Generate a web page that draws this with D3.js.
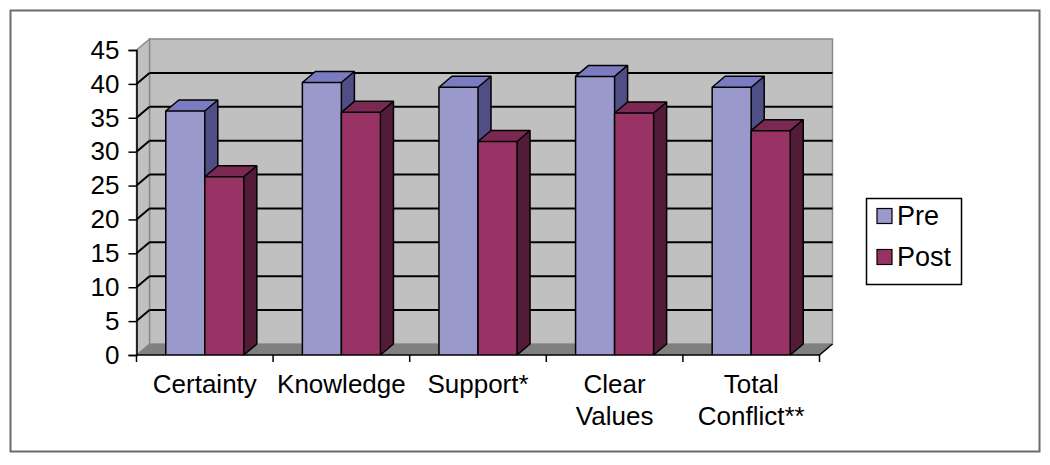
<!DOCTYPE html>
<html lang="en">
<head>
<meta charset="utf-8">
<title>Pre / Post 3D columns</title>
<script src="https://cdn.jsdelivr.net/npm/d3@7"></script>
<style>
  * { margin: 0; padding: 0; }
  body { background: #fff; }
  svg { display: block; font-family: "Liberation Sans", Arial, Helvetica, sans-serif; }
</style>
</head>
<body>
<div id="chart"></div>
<script>
// data
var categories = ["Certainty", "Knowledge", "Support*", "Clear\nValues", "Total\nConflict**"];
var series = ["Pre", "Post"];
var preValues = [36.0, 40.2, 39.5, 41.1, 39.5];
var postValues = [26.3, 35.8, 31.5, 35.7, 33.1];
var yTicks = [0, 5, 10, 15, 20, 25, 30, 35, 40, 45];

var w = 1050, h = 465;

// face colours: front, top, side
var colours = {
  Pre:  { front: "#9999cc", top: "#7b7bc1", side: "#4f4f85" },
  Post: { front: "#993366", top: "#7a2952", side: "#521c38" }
};

// depth of the 3d box
var dx = 13, dy = -11;

var svg = d3.select("#chart").append("svg")
    .attr("width", w)
    .attr("height", h);

// outer frame
svg.append("rect")
    .attr("x", 10.5).attr("y", 10.5)
    .attr("width", 1029).attr("height", 441)
    .attr("fill", "none")
    .attr("stroke", "#6b6b6b")
    .attr("stroke-width", 2);

var y = d3.scaleLinear().domain([0, 45]).range([355, 50]);
var x0 = d3.scaleBand().domain(categories).range([136.5, 819.5]);
var x1 = d3.scaleBand().domain(series).range([0, x0.bandwidth()])
    .paddingInner(0).paddingOuter(0.75);

var left = x0.range()[0], right = x0.range()[1];
var y0 = y(0), yTop = y(45);

function pts(a) { return a.map(function(p) { return p.join(","); }).join(" "); }

// walls and floor
var walls = svg.append("g");
walls.append("polygon")
    .attr("points", pts([[left + dx, yTop + dy], [right + dx, yTop + dy], [right + dx, y0 + dy], [left + dx, y0 + dy]]))
    .attr("fill", "#c0c0c0").attr("stroke", "#8a8a8a").attr("stroke-width", 1.5);
walls.append("polygon")
    .attr("points", pts([[left, yTop], [left + dx, yTop + dy], [left + dx, y0 + dy], [left, y0]]))
    .attr("fill", "#c0c0c0").attr("stroke", "#8a8a8a").attr("stroke-width", 1.5);
walls.append("polygon")
    .attr("points", pts([[left, y0], [left + dx, y0 + dy], [right + dx, y0 + dy], [right, y0]]))
    .attr("fill", "#808080");
walls.append("line")
    .attr("x1", right).attr("y1", y0).attr("x2", right + dx).attr("y2", y0 + dy)
    .attr("stroke", "#000").attr("stroke-width", 1.5);

// gridlines on back wall + side wall
var grid = svg.append("g");
var gridTicks = yTicks.filter(function(t) { return t > 0 && t < 45; });
grid.selectAll("line.back")
    .data(gridTicks)
    .enter().append("line")
    .attr("class", "back")
    .attr("x1", left + dx).attr("x2", right + dx)
    .attr("y1", function(d) { return y(d) + dy; })
    .attr("y2", function(d) { return y(d) + dy; })
    .attr("stroke", "#000").attr("stroke-width", 2);
grid.selectAll("line.side")
    .data(gridTicks)
    .enter().append("line")
    .attr("class", "side")
    .attr("x1", left).attr("x2", left + dx)
    .attr("y1", function(d) { return y(d); })
    .attr("y2", function(d) { return y(d) + dy; })
    .attr("stroke", "#000").attr("stroke-width", 2);

// bars
var rows = [];
categories.forEach(function(c, i) {
  rows.push({ cat: c, s: "Pre", v: preValues[i] });
  rows.push({ cat: c, s: "Post", v: postValues[i] });
});

var bars = svg.append("g").selectAll("g")
    .data(rows)
    .enter().append("g");

function bx(d) { return x0(d.cat) + x1(d.s); }
var bw = x1.bandwidth();

bars.append("polygon")
    .attr("points", function(d) {
      var a = bx(d), b = a + bw, t = y(d.v);
      return pts([[a, t], [a + dx, t + dy], [b + dx, t + dy], [b, t]]);
    })
    .attr("fill", function(d) { return colours[d.s].top; });
bars.append("polygon")
    .attr("points", function(d) {
      var b = bx(d) + bw, t = y(d.v);
      return pts([[b, t], [b + dx, t + dy], [b + dx, y0 + dy], [b, y0]]);
    })
    .attr("fill", function(d) { return colours[d.s].side; });
bars.append("rect")
    .attr("x", bx)
    .attr("y", function(d) { return y(d.v); })
    .attr("width", bw)
    .attr("height", function(d) { return y0 - y(d.v); })
    .attr("fill", function(d) { return colours[d.s].front; });
// outlines
bars.append("path")
    .attr("d", function(d) {
      var a = bx(d), b = a + bw, t = y(d.v);
      return "M" + a + "," + y0 + "V" + t + "L" + (a + dx) + "," + (t + dy) +
        "H" + (b + dx) + "V" + (y0 + dy) + "L" + b + "," + y0 +
        "M" + a + "," + t + "H" + b + "V" + y0 +
        "M" + b + "," + t + "L" + (b + dx) + "," + (t + dy);
    })
    .attr("fill", "none")
    .attr("stroke", "#000")
    .attr("stroke-width", 1.5)
    .attr("stroke-linejoin", "round");

// y axis
var yAxis = d3.axisLeft(y).tickValues(yTicks).tickSize(8).tickPadding(9);
var yg = svg.append("g")
    .attr("transform", "translate(" + left + ",0)")
    .call(yAxis);
yg.select(".domain").attr("stroke", "#000").attr("stroke-width", 1.5);
yg.selectAll(".tick line").attr("stroke", "#000").attr("stroke-width", 1.5);
yg.selectAll(".tick text")
    .attr("font-size", 26)
    .attr("font-family", "Liberation Sans, Arial, sans-serif")
    .attr("fill", "#000");

// x axis line and ticks at category boundaries
var xg = svg.append("g");
xg.append("line")
    .attr("x1", left).attr("x2", right)
    .attr("y1", y0).attr("y2", y0)
    .attr("stroke", "#000").attr("stroke-width", 1.5);
var bounds = categories.map(function(c) { return x0(c); }).concat([right]);
xg.selectAll("line.tick")
    .data(bounds)
    .enter().append("line")
    .attr("class", "tick")
    .attr("x1", function(d) { return d; }).attr("x2", function(d) { return d; })
    .attr("y1", y0).attr("y2", y0 + 7)
    .attr("stroke", "#000").attr("stroke-width", 1.5);

var labels = xg.selectAll("text")
    .data(categories)
    .enter().append("text")
    .attr("text-anchor", "middle")
    .attr("font-size", 26)
    .attr("fill", "#000")
    .attr("transform", function(d) { return "translate(" + (x0(d) + x0.bandwidth() / 2) + ",393)"; });
labels.selectAll("tspan")
    .data(function(d) { return d.split("\n"); })
    .enter().append("tspan")
    .attr("x", 0)
    .attr("y", function(d, i) { return i * 32; })
    .text(function(d) { return d; });

// legend
var legend = svg.append("g");
legend.append("rect")
    .attr("x", 866.5).attr("y", 198.5)
    .attr("width", 95).attr("height", 86)
    .attr("fill", "#fff").attr("stroke", "#000").attr("stroke-width", 1.5);
var items = legend.selectAll("g")
    .data(series)
    .enter().append("g")
    .attr("transform", function(d, i) { return "translate(877," + (208.5 + i * 41) + ")"; });
items.append("rect")
    .attr("width", 15).attr("height", 15)
    .attr("fill", function(d) { return colours[d].front; })
    .attr("stroke", "#000").attr("stroke-width", 1.2);
items.append("text")
    .attr("x", 20).attr("y", 16)
    .attr("font-size", 27)
    .attr("fill", "#000")
    .text(function(d) { return d; });
</script>
</body>
</html>
